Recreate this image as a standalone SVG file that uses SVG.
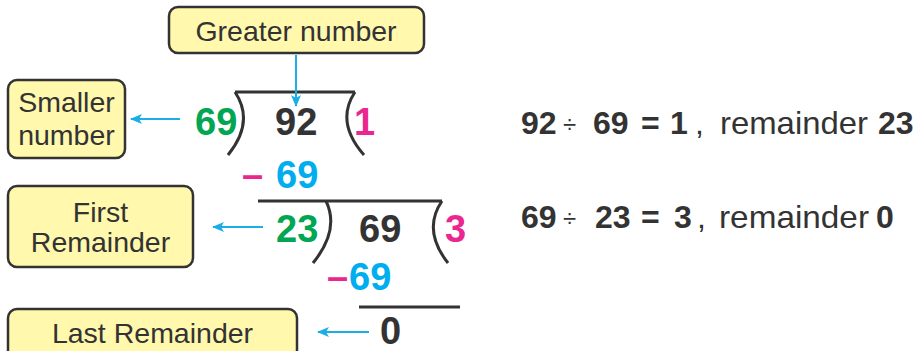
<svg xmlns="http://www.w3.org/2000/svg" width="916" height="351" viewBox="0 0 916 351">
<defs>
<marker id="ah" markerWidth="12" markerHeight="10" refX="11" refY="5" orient="auto" markerUnits="userSpaceOnUse">
<path d="M0,0 L12,5 L0,10 L3,5 Z" fill="#1aaee5"/>
</marker>
<style>
.box{fill:#fff8ad;stroke:#333;stroke-width:2.5}
.lbl{font-family:"Liberation Sans",Arial,sans-serif;font-size:28.5px;fill:#333;text-anchor:middle}
.num{font-family:"Liberation Sans",Arial,sans-serif;font-size:38px;font-weight:bold}
.eq{font-family:"Liberation Sans",Arial,sans-serif;font-size:32px;fill:#333}
.dv{font-size:24px}
.b{font-weight:bold}
.g{fill:#00a651}.k{fill:#333}.p{fill:#ec268f}.c{fill:#00aeef}
.ln{fill:none;stroke:#333;stroke-width:3}
.conn{stroke:#1aaee5;stroke-width:2;fill:none;marker-end:url(#ah)}
</style>
</defs>
<rect width="916" height="351" fill="#fff"/>
<g id="greater">
<rect class="box" x="169" y="7" width="255" height="46" rx="9"/>
<text class="lbl" x="296" y="41">Greater number</text>
</g>
<g id="smaller">
<rect class="box" x="8" y="80" width="117" height="78" rx="9"/>
<text class="lbl" x="66.5" y="112">Smaller</text>
<text class="lbl" x="66.5" y="145">number</text>
</g>
<g id="first">
<rect class="box" x="8" y="186" width="185" height="81" rx="9"/>
<text class="lbl" x="100.5" y="222">First</text>
<text class="lbl" x="100.5" y="252">Remainder</text>
</g>
<g id="last">
<rect class="box" x="8" y="309" width="289" height="50" rx="9"/>
<text class="lbl" x="152.5" y="343">Last Remainder</text>
</g>
<g id="division">
<path class="ln" d="M235,92 H355 M235,92 Q255,122 228,155 M355,92 Q335,122 364,155"/>
<text class="num g" x="195" y="135">69</text>
<text class="num k" x="275" y="135">92</text>
<text class="num p" x="354" y="135">1</text>
<text class="num p" x="242" y="188">–</text>
<text class="num c" x="276" y="188">69</text>
<path class="ln" d="M258,201 H442 M326,201 Q340,230 313,263 M442,201 Q422,230 448,263"/>
<text class="num g" x="276" y="242">23</text>
<text class="num k" x="359" y="242">69</text>
<text class="num p" x="445" y="242">3</text>
<text class="num p" x="327" y="290">–</text>
<text class="num c" x="349" y="290">69</text>
<path class="ln" d="M359,307 H460"/>
<text class="num k" x="380" y="344">0</text>
</g>
<g id="equations">
<text class="eq b" x="521" y="134">92</text>
<text class="eq dv" x="563" y="133">÷</text>
<text class="eq b" x="593" y="134">69</text>
<text class="eq b" x="641" y="134">=</text>
<text class="eq b" x="670" y="134">1</text>
<text class="eq" x="695" y="134">,</text>
<text class="eq" x="720" y="134" textLength="148" lengthAdjust="spacingAndGlyphs">remainder</text>
<text class="eq b" x="878" y="134">23</text>
<text class="eq b" x="521" y="228">69</text>
<text class="eq dv" x="563" y="227">÷</text>
<text class="eq b" x="595" y="228">23</text>
<text class="eq b" x="641" y="228">=</text>
<text class="eq b" x="674" y="228">3</text>
<text class="eq" x="697" y="228">,</text>
<text class="eq" x="719" y="228" textLength="150" lengthAdjust="spacingAndGlyphs">remainder</text>
<text class="eq b" x="876" y="228">0</text>
</g>
<g id="connectors">
<path class="conn" d="M296,55 V106"/>
<path class="conn" d="M180,119 H131"/>
<path class="conn" d="M263,227 H213"/>
<path class="conn" d="M369,332 H318"/>
</g>
</svg>
